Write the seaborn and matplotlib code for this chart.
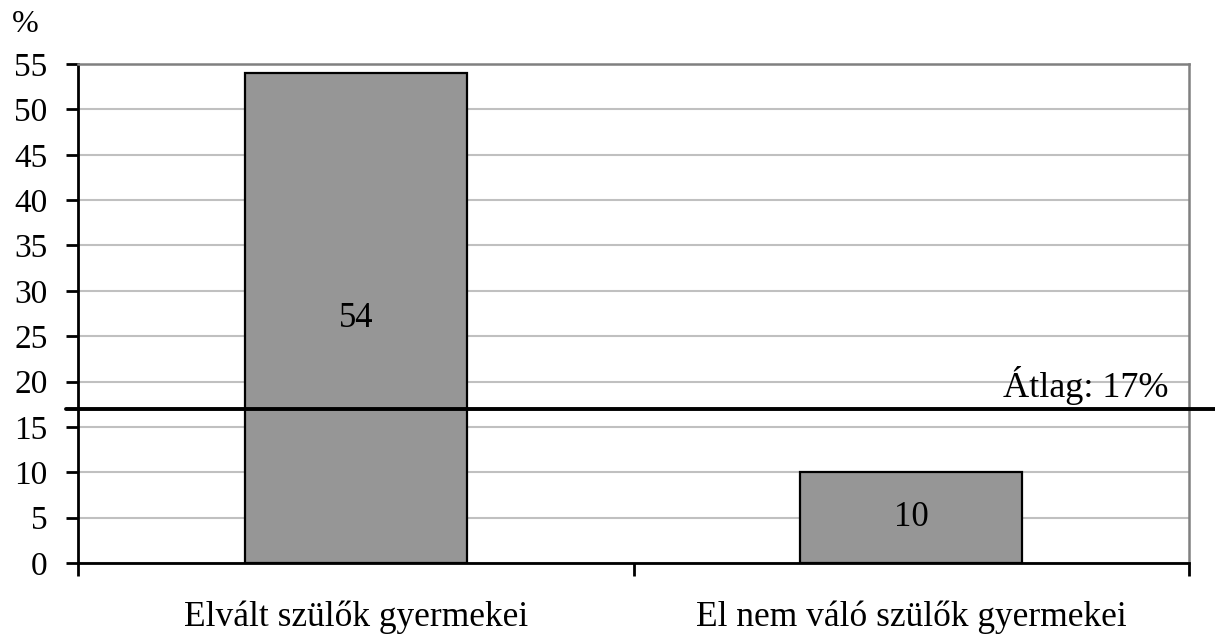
import matplotlib
matplotlib.use('Agg')
import pandas as pd
import seaborn as sns
import matplotlib.pyplot as plt

# Data
categories = ['Elvált szülők gyermekei', 'El nem váló szülők gyermekei']
values = [54, 10]
avg_value = 17
avg_label = 'Átlag: 17%'
y_ticks = list(range(0, 56, 5))

df = pd.DataFrame({'cat': categories, 'val': values})

sns.set_style('white')
plt.rcParams['font.family'] = ['Liberation Serif', 'DejaVu Serif']
plt.rcParams['text.color'] = 'black'
plt.rcParams['xtick.labelcolor'] = 'black'
plt.rcParams['ytick.labelcolor'] = 'black'

fig = plt.figure(figsize=(12.15, 6.39), dpi=100)
ax = fig.add_axes([0.0642, 0.1189, 0.9145, 0.7809])

sns.barplot(df, x='cat', y='val', color='#969696', edgecolor='black',
            linewidth=1.6, width=0.4, saturation=1, ax=ax, zorder=3)

for i, v in enumerate(values):
    ax.text(i, v / 2, str(v), ha='center', va='center', fontsize=25, zorder=5)

ax.set_xlim(-0.5, 1.5)
ax.set_ylim(0, 55)
ax.set_yticks(y_ticks)
ax.yaxis.grid(True, color='#c0c0c0', linewidth=1.5, zorder=0)
ax.set_axisbelow(True)
ax.set_xlabel('')
ax.set_ylabel('')

# ticks: labels at centres, tick marks at category borders
ax.set_xticks([0, 1])
ax.set_xticklabels(categories, fontsize=25.5)
ax.set_xticks([-0.5, 0.5, 1.5], minor=True)
ax.tick_params(axis='x', which='major', bottom=True, length=0, pad=27)
ax.tick_params(axis='x', which='minor', bottom=True, length=9, width=2,
               color='black', direction='out')
ax.tick_params(axis='y', left=True, length=9, width=2, color='black',
               direction='out', labelsize=24, pad=13)

for s in ['left', 'bottom']:
    ax.spines[s].set_color('black')
    ax.spines[s].set_linewidth(2)
for s in ['top', 'right']:
    ax.spines[s].set_color('#808080')
    ax.spines[s].set_linewidth(1.8)
    ax.spines[s].set_visible(True)

# average line
ax.axhline(avg_value, xmin=-0.011, xmax=1.03, color='black', linewidth=2.8,
           clip_on=False, zorder=6)
ax.text(1.462, avg_value + 1.3, avg_label, ha='right', va='baseline',
        fontsize=26, zorder=6)

fig.text(0.01, 0.962, '%', fontsize=23, ha='left', va='center')

plt.savefig('out.png', dpi=100)
